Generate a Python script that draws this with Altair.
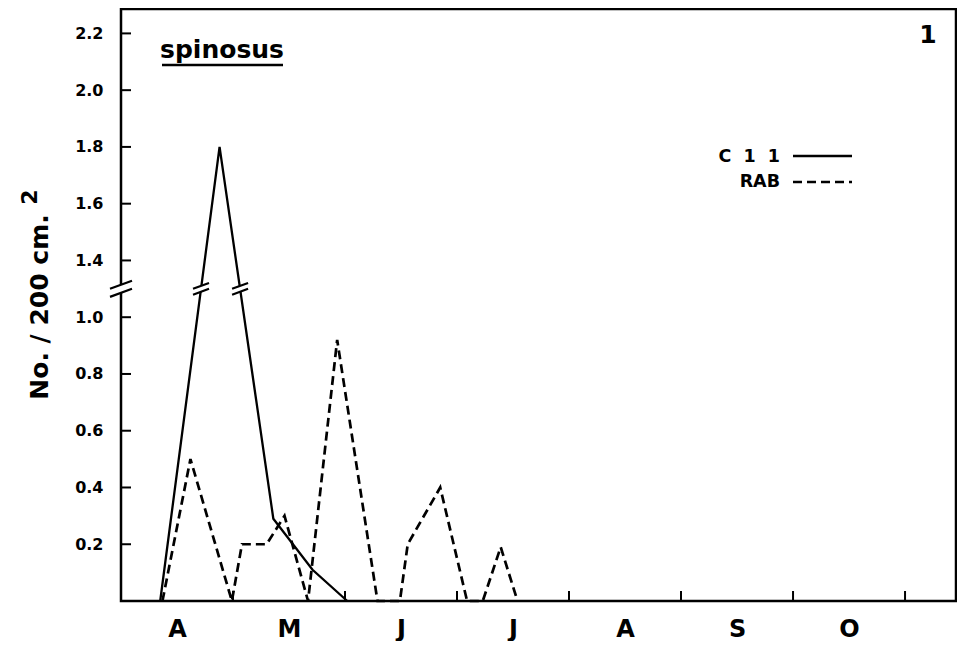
import altair as alt
import pandas as pd

# ---------------- data ----------------
months = ["A", "M", "J", "J", "A", "S", "O"]
month_starts = [1, 2, 3, 4, 5, 6, 7]          # month boundaries (months since 1 April)
month_centres = [0.5, 1.5, 2.5, 3.5, 4.5, 5.5, 6.5]

c11_x = [0.35, 0.88, 1.36, 1.71, 2.02]
c11_y = [0.0, 1.8, 0.29, 0.11, 0.0]

rab_x = [0.37, 0.62, 0.99, 1.08, 1.30, 1.46, 1.67, 1.93, 2.29, 2.49, 2.56, 2.85, 3.09, 3.23, 3.39, 3.54]
rab_y = [0.0, 0.5, 0.0, 0.2, 0.2, 0.3, 0.0, 0.92, 0.0, 0.0, 0.2, 0.4, 0.0, 0.0, 0.19, 0.0]

y_tick_labels = [0.2, 0.4, 0.6, 0.8, 1.0, 1.4, 1.6, 1.8, 2.0, 2.2]
BREAK_FROM, BREAK_TO = 1.0, 1.4   # axis jumps from 1.0 straight to 1.4
GAP = BREAK_TO - BREAK_FROM - 0.2  # 0.2 removed
BREAK_LEVEL = 1.1                 # where the // marks sit (plotted units)


def plotted(v):
    return v if v <= BREAK_FROM + 0.1 else v - GAP


def crossings(xs, ys, level):
    out = []
    yp = [plotted(v) for v in ys]
    for i in range(len(xs) - 1):
        a, b = yp[i], yp[i + 1]
        if (a - level) * (b - level) < 0:
            t = (level - a) / (b - a)
            out.append(xs[i] + t * (xs[i + 1] - xs[i]))
    return out


c11 = pd.DataFrame({"x": c11_x, "v": c11_y, "o": range(len(c11_x))})
rab = pd.DataFrame({"x": rab_x, "v": rab_y, "o": range(len(rab_x))})
yt = pd.DataFrame({"yp": [plotted(v) for v in y_tick_labels]})
xt = pd.DataFrame({"x": month_starts})
axis_break = pd.DataFrame({"x": [0.0], "yp": [BREAK_LEVEL]})
line_breaks = pd.DataFrame({"x": crossings(c11_x, c11_y, BREAK_LEVEL), "yp": BREAK_LEVEL})

W, H = 835, 592
FONT = "DejaVu Sans"

x_enc = alt.X(
    "x:Q",
    scale=alt.Scale(domain=[0, 7.455], nice=False, zero=False),
    axis=alt.Axis(
        values=month_centres,
        labelExpr="['A','M','J','J','A','S','O'][floor(datum.value)]",
        labelFontSize=24,
        labelBaseline="alphabetic",
        labelPadding=35,
        title=None,
        zindex=0,
    ),
)
y_scale = alt.Scale(domain=[0, 2.086], nice=False, zero=True)
y_enc = alt.Y(
    "yp:Q",
    scale=y_scale,
    axis=alt.Axis(
        values=[plotted(v) for v in y_tick_labels],
        labelExpr="format(datum.value > 1.05 ? datum.value + 0.2 : datum.value, '.1f')",
        labelFontSize=16,
        labelPadding=18,
        title=None,
        zindex=0,
    ),
)

calc = "datum.v > 1.1 ? datum.v - 0.2 : datum.v"

solid = alt.Chart(c11).transform_calculate(yp=calc).mark_line(
    color="black", strokeWidth=2.3
).encode(x=x_enc, y=y_enc, order="o:Q")

dashed = alt.Chart(rab).transform_calculate(yp=calc).mark_line(
    color="black", strokeWidth=2.7, strokeDash=[9, 5]
).encode(x=x_enc, y=y_enc, order="o:Q")

ytick_rules = alt.Chart(yt).mark_rule(color="black", strokeWidth=2).encode(
    x=alt.value(0), x2=alt.value(10), y=y_enc
)
xtick_rules = alt.Chart(xt).mark_rule(color="black", strokeWidth=2).encode(
    x=x_enc, y=alt.value(H), y2=alt.value(H - 10)
)

patch_path = "M-1,0 L1,-0.73 L1,0 L-1,0.73 Z"
slash_path = "M-1,0 L1,-0.73 M-1,0.73 L1,0"


def brk(df, size):
    patch = alt.Chart(df).mark_point(
        shape=patch_path, filled=True, fill="white", strokeWidth=0, opacity=1, size=size
    ).encode(x=x_enc, y=y_enc)
    slash = alt.Chart(df).mark_point(
        shape=slash_path, filled=False, stroke="black", strokeWidth=2.2, opacity=1, size=size
    ).encode(x=x_enc, y=y_enc)
    return patch + slash


one = pd.DataFrame({"k": [0]})


def label(text, x, y, size, align="center", angle=0):
    return alt.Chart(one).mark_text(
        text=text, font=FONT, fontWeight="bold", fontSize=size, color="black",
        align=align, baseline="alphabetic", angle=angle
    ).encode(x=alt.value(x), y=alt.value(y))


def rule(x1, x2, y, dash=None, width=2.4):
    kw = dict(color="black", strokeWidth=width)
    if dash:
        kw["strokeDash"] = dash
    return alt.Chart(one).mark_rule(**kw).encode(x=alt.value(x1), x2=alt.value(x2), y=alt.value(y))


title = label("spinosus", 101, 49, 25)
underline = rule(41, 162, 56, width=2.5)
panel_no = label("1", 807, 34, 25)
leg1 = label("C\u00a0\u00a01\u00a0\u00a01", 659, 153, 17.5, align="right")
leg2 = label("RAB", 659, 178, 17.5, align="right")
leg1_line = rule(672, 731, 147)
leg2_line = rule(672, 731, 173, dash=[9, 5], width=2.7)
ytitle = label("No. / 200 cm.", -73, 298, 25, angle=270)
ysup = label("2", -84, 188, 22, angle=270)

chart = alt.layer(
    solid, dashed, ytick_rules, xtick_rules,
    brk(axis_break, 484), brk(line_breaks, 256),
    title, underline, panel_no, leg1, leg2, leg1_line, leg2_line, ytitle, ysup,
).properties(
    width=W, height=H,
    autosize=alt.AutoSizeParams(type="none"),
    padding={"left": 113, "top": 1, "right": 1, "bottom": 40},
    background="white",
).configure_view(
    stroke="black", strokeWidth=2.5
).configure_axis(
    labelFont=FONT, labelFontWeight="bold", labelColor="black",
    grid=False, domain=False, ticks=False,
)

chart.save("out.html", embed_options={"renderer": "svg", "actions": False})
